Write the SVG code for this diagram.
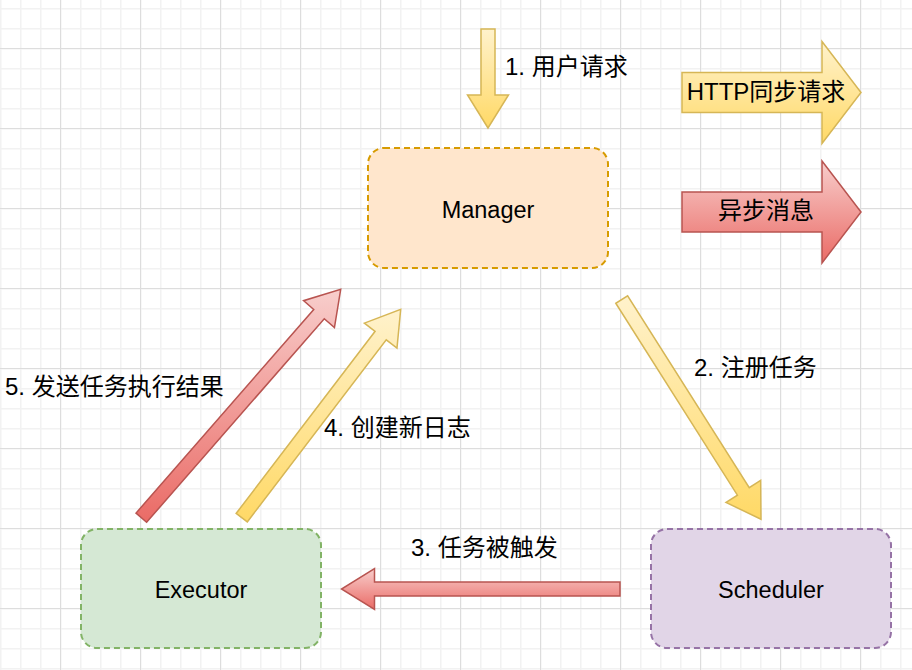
<svg xmlns="http://www.w3.org/2000/svg" width="912" height="670" viewBox="0 0 912 670">
<defs>
<pattern id="gMinor" width="20" height="20" patternUnits="userSpaceOnUse" x="0" y="8">
<rect x="0" y="0" width="20" height="20" fill="#ffffff"/>
<rect x="0" y="0" width="1.5" height="20" fill="#f2f2f2"/>
<rect x="0" y="0" width="20" height="1.5" fill="#f2f2f2"/>
</pattern>
<pattern id="gMajor" width="80" height="80" patternUnits="userSpaceOnUse" x="60" y="48">
<rect x="0" y="0" width="1" height="80" fill="#dddddd"/>
<rect x="0" y="0" width="80" height="1" fill="#dddddd"/>
</pattern>
<linearGradient id="yel" x1="0" y1="0" x2="0" y2="1">
<stop offset="0" stop-color="#fff2cc"/>
<stop offset="1" stop-color="#ffd966"/>
</linearGradient>
<linearGradient id="red" x1="0" y1="0" x2="0" y2="1">
<stop offset="0" stop-color="#f8cecc"/>
<stop offset="1" stop-color="#ea6b66"/>
</linearGradient>
</defs>
<style>
.lbl{font-family:"Liberation Sans","Noto Sans CJK SC",sans-serif;font-size:24px;fill:#000000;}
.nlbl{font-family:"Liberation Sans","Noto Sans CJK SC",sans-serif;font-size:23.5px;fill:#000000;text-anchor:middle;}
.ya{fill:url(#yel);stroke:#d6b656;stroke-width:1.5;stroke-linejoin:miter;}
.ra{fill:url(#red);stroke:#b85450;stroke-width:1.5;stroke-linejoin:miter;}
.node{stroke-width:2;stroke-dasharray:6 4;}
</style>
<rect x="0" y="0" width="912" height="670" fill="url(#gMinor)"/>
<rect x="0" y="0" width="912" height="670" fill="url(#gMajor)"/>

<g id="legend">
<g id="legend-http">
<polygon class="ya" points="682,72.5 822,72.5 822,41.5 861,92.5 822,143.5 822,112.5 682,112.5"/>
<text class="lbl" x="766" y="100" text-anchor="middle">HTTP同步请求</text>
</g>
<g id="legend-async">
<polygon class="ra" points="682,192 822,192 822,161 861,212 822,263 822,232 682,232"/>
<text class="lbl" x="766" y="219" text-anchor="middle">异步消息</text>
</g>
</g>

<g id="manager">
<rect class="node" x="368" y="148" width="240" height="120" rx="16" ry="16" fill="#ffe6cc" stroke="#d79b00"/>
<text class="nlbl" x="488" y="218">Manager</text>
</g>
<g id="executor">
<rect class="node" x="81" y="529" width="240" height="119" rx="16" ry="16" fill="#d5e8d4" stroke="#82b366"/>
<text class="nlbl" x="201" y="598">Executor</text>
</g>
<g id="scheduler">
<rect class="node" x="651" y="529" width="240" height="119" rx="16" ry="16" fill="#e1d5e7" stroke="#9673a6"/>
<text class="nlbl" x="771" y="598">Scheduler</text>
</g>

<g id="connectors">
<g id="c1">
<polygon class="ya" points="481,29 495,29 495,95 508.5,95 488,128 467.5,95 481,95"/>
<text class="lbl" x="505" y="75">1. 用户请求</text>
</g>
<g id="c2">
<polygon class="ya" points="615.79,303.25 737.42,495.17 726.01,502.40 761,519.3 760.65,480.44 749.24,487.67 627.61,295.75"/>
<text class="lbl" x="694" y="376">2. 注册任务</text>
</g>
<g id="c3">
<polygon class="ra" points="620,582 374.5,582 374.5,568.5 341.5,589 374.5,609.5 374.5,596 620,596"/>
<text class="lbl" x="411" y="556">3. 任务被触发</text>
</g>
<g id="c4">
<polygon class="ya" points="247.27,521.95 386.25,339.79 396.98,347.98 400.7,309.3 364.38,323.10 375.11,331.29 236.13,513.45"/>
<text class="lbl" x="324" y="436">4. 创建新日志</text>
</g>
<g id="c5">
<polygon class="ra" points="146.57,522.30 324.27,318.76 334.44,327.64 340.7,289.3 303.56,300.68 313.73,309.56 136.03,513.10"/>
<text class="lbl" x="5" y="395">5. 发送任务执行结果</text>
</g>
</g>
</svg>
